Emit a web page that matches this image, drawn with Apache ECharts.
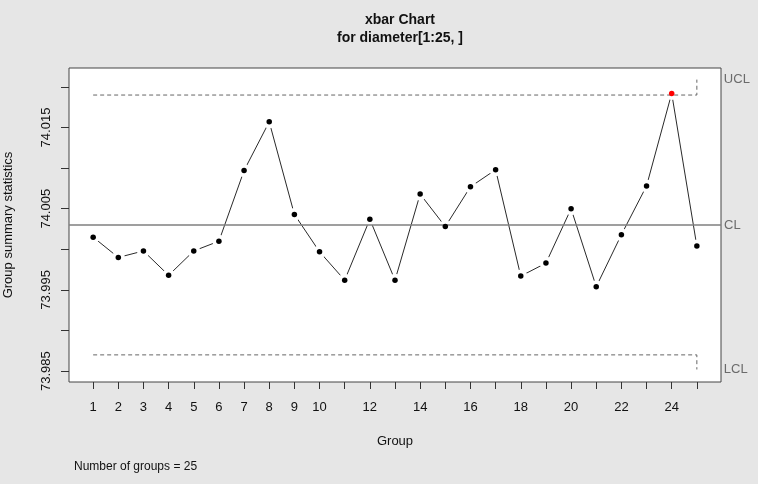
<!DOCTYPE html>
<html lang="en">
<head>
    <meta charset="UTF-8">
    <title>xbar Chart</title>
    <style>
        html, body { margin: 0; padding: 0; background: #e6e6e6; }
    </style>
</head>
<body>
<div id="main" style="width: 758px;height:484px;"></div>
<script src="https://cdn.jsdelivr.net/npm/echarts@6.0.0/dist/echarts.min.js"></script>
<script type="text/javascript">
    // group means
    var groups = [1, 2, 3, 4, 5, 6, 7, 8, 9, 10, 11, 12, 13, 14, 15, 16, 17, 18, 19, 20, 21, 22, 23, 24, 25];
    var means = [74.0015, 73.9990, 73.9998, 73.9968, 73.9998, 74.0010, 74.0097, 74.0157, 74.0043, 73.9997,
        73.9962, 74.0037, 73.9962, 74.0068, 74.0028, 74.0077, 74.0098, 73.9967, 73.9983, 74.0050,
        73.9954, 74.0018, 74.0078, 74.0192, 74.0004];
    var center = 74.0030;
    var ucl = [74.0190, 74.0190, 74.0209];   // step at the last group
    var lcl = [73.9870, 73.9870, 73.9852];
    var limitX = [1, 25, 25];
    var yTicks = [73.985, 73.990, 73.995, 74.000, 74.005, 74.010, 74.015, 74.020];
    var yLabels = [73.985, 73.995, 74.005, 74.015];
    var xLabels = [1, 2, 3, 4, 5, 6, 7, 8, 9, 10, 12, 14, 16, 18, 20, 22, 24];

    var font = "'Liberation Sans', Arial, sans-serif";

    var pts = [];
    for (var i = 0; i < groups.length; i++) {
        var out = means[i] > ucl[i < 24 ? 0 : 2] || means[i] < lcl[i < 24 ? 0 : 2];
        pts.push({value: [groups[i], means[i]], itemStyle: {color: out ? '#ff0000' : '#000000', opacity: 1}});
    }
    var linePts = groups.map(function (g, i) { return [g, means[i]]; });

    function limitData(vals) {
        return vals.map(function (v, i) { return [limitX[i], v]; });
    }

    var labelStyle = {color: '#6b6b6b', fontSize: 13, fontFamily: font};

    var myChart = echarts.init(document.getElementById('main'));
    myChart.setOption({
        backgroundColor: '#e6e6e6',
        animation: false,
        title: {
            text: 'xbar Chart\nfor diameter[1:25, ]',
            left: 395,
            textAlign: 'center',
            top: 6,
            textStyle: {fontSize: 14, fontWeight: 'bold', color: '#111', fontFamily: font, lineHeight: 18}
        },
        grid: {
            left: 69, top: 68, width: 652, height: 314,
            outerBoundsMode: 'none', containLabel: false,
            show: true, backgroundColor: '#ffffff', borderColor: '#444', borderWidth: 1
        },
        graphic: [{
            type: 'text', left: 74, top: 461,
            style: {text: 'Number of groups = 25', fontSize: 12, fontFamily: font, fill: '#111'}
        }],
        xAxis: {
            type: 'value', min: 0.04, max: 25.96,
            name: 'Group', nameLocation: 'middle', nameGap: 53,
            nameTextStyle: {fontSize: 13, fontFamily: font, color: '#111'},
            axisLine: {show: false},
            splitLine: {show: false},
            axisTick: {show: true, customValues: groups, length: 7, inside: false,
                lineStyle: {color: '#333'}},
            axisLabel: {customValues: xLabels, margin: 19, fontSize: 13, fontFamily: font, color: '#111',
                formatter: function (v) { return String(v); }}
        },
        yAxis: {
            type: 'value', min: 73.98366, max: 74.02233,
            name: 'Group summary statistics', nameLocation: 'middle', nameGap: 54, nameRotate: 90,
            nameTextStyle: {fontSize: 13, fontFamily: font, color: '#111'},
            axisLine: {show: false},
            splitLine: {show: false},
            axisTick: {show: true, customValues: yTicks, length: 8, lineStyle: {color: '#333'}},
            axisLabel: {customValues: yLabels, rotate: 90, margin: 16, fontSize: 13, fontFamily: font,
                color: '#111', formatter: function (v) { return v.toFixed(3); }}
        },
        series: [
            {
                name: 'line', type: 'line', data: linePts, showSymbol: false, z: 2, silent: true,
                lineStyle: {color: '#2a2a2a', width: 1}
            },
            {
                // white discs cut the line short of each point, like R's type = "b"
                name: 'gap', type: 'scatter', data: linePts, symbol: 'circle', symbolSize: 13,
                z: 3, silent: true,
                itemStyle: {color: '#ffffff', opacity: 1}
            },
            {
                name: 'CL', type: 'line', data: [[0.04, center], [25.96, center]], showSymbol: false, z: 4,
                lineStyle: {color: '#7f7f7f', width: 1.6},
                endLabel: Object.assign({show: true, formatter: 'CL', distance: 3}, labelStyle)
            },
            {
                name: 'UCL', type: 'line', data: limitData(ucl), showSymbol: false, z: 4,
                lineStyle: {color: '#666', width: 1, type: [4, 3]},
                endLabel: Object.assign({show: true, formatter: 'UCL', distance: 27}, labelStyle)
            },
            {
                name: 'LCL', type: 'line', data: limitData(lcl), showSymbol: false, z: 4,
                lineStyle: {color: '#666', width: 1, type: [4, 3]},
                endLabel: Object.assign({show: true, formatter: 'LCL', distance: 27}, labelStyle)
            },
            {
                name: 'xbar', type: 'scatter', data: pts, symbolSize: 5.5, z: 5
            }
        ]
    });
</script>
</body>
</html>
